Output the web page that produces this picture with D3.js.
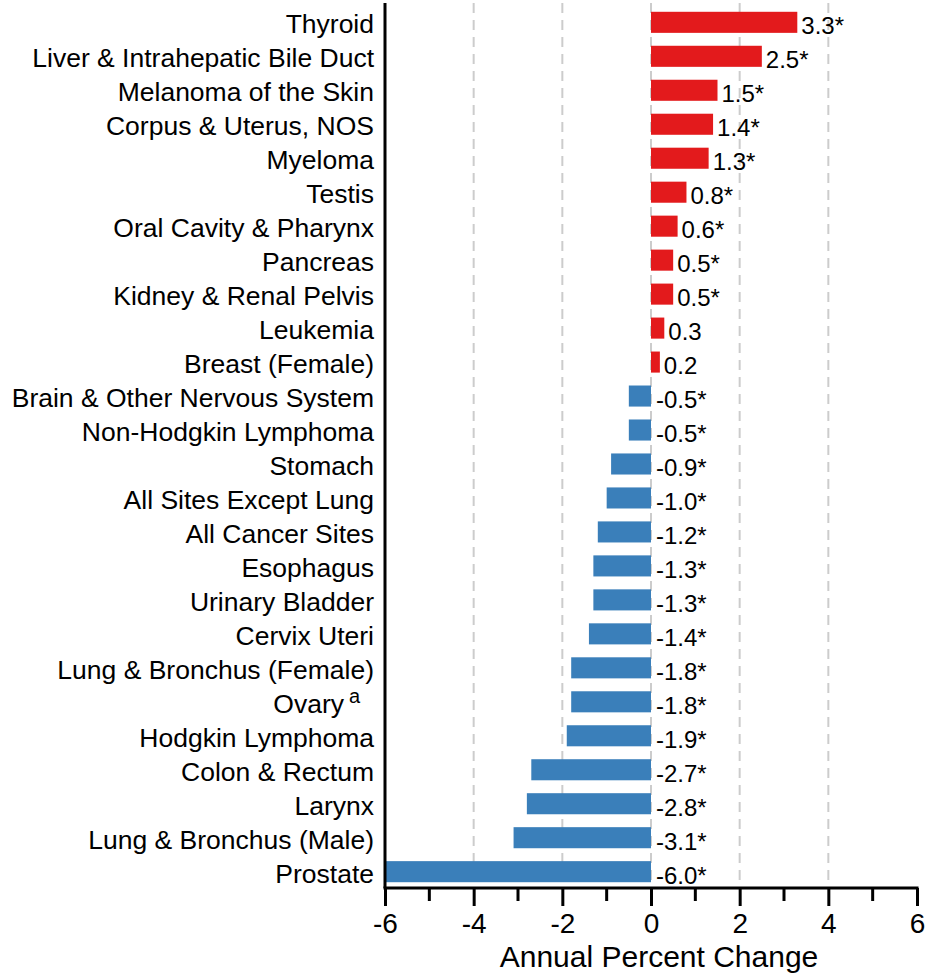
<!DOCTYPE html>
<html>
<head>
<meta charset="utf-8">
<script src="https://cdn.jsdelivr.net/npm/d3@7"></script>
<style>
  body { margin: 0; background: #fff; }
  svg { display: block; font-family: "Liberation Sans", Arial, sans-serif; }
</style>
</head>
<body>
<div id="chart"></div>
<script>
// Data
const sites = [
  'Thyroid', 'Liver & Intrahepatic Bile Duct', 'Melanoma of the Skin', 'Corpus & Uterus, NOS',
  'Myeloma', 'Testis', 'Oral Cavity & Pharynx', 'Pancreas', 'Kidney & Renal Pelvis', 'Leukemia',
  'Breast (Female)', 'Brain & Other Nervous System', 'Non-Hodgkin Lymphoma', 'Stomach',
  'All Sites Except Lung', 'All Cancer Sites', 'Esophagus', 'Urinary Bladder', 'Cervix Uteri',
  'Lung & Bronchus (Female)', 'Ovary', 'Hodgkin Lymphoma', 'Colon & Rectum', 'Larynx',
  'Lung & Bronchus (Male)', 'Prostate'
];
const apc = [
  3.3, 2.5, 1.5, 1.4, 1.3, 0.8, 0.6, 0.5, 0.5, 0.3, 0.2, -0.5, -0.5, -0.9,
  -1.0, -1.2, -1.3, -1.3, -1.4, -1.8, -1.8, -1.9, -2.7, -2.8, -3.1, -6.0
];
const significant = [
  true, true, true, true, true, true, true, true, true, false, false, true, true, true,
  true, true, true, true, true, true, true, true, true, true, true, true
];
const footnotes = { 'Ovary': 'a' };
const xTicks = [-6, -4, -2, 0, 2, 4, 6];
const gridTicks = [-4, -2, 0, 2, 4];
const minorTicks = [-5, -3, -1, 1, 3, 5];
const xTitle = 'Annual Percent Change';

const dataset = sites.map((site, i) => ({ site, value: apc[i], sig: significant[i] }));

// Dimensions
const dimensions = { width: 927, height: 974, left: 385, right: 917, top: 3, axisY: 888 };

const svg = d3.select('#chart')
  .append('svg')
  .attr('width', dimensions.width)
  .attr('height', dimensions.height);

// Scales
const xScale = d3.scaleLinear()
  .domain([-6, 6])
  .range([dimensions.left, dimensions.right]);

const yScale = d3.scaleBand()
  .domain(sites)
  .range([5, 889])
  .paddingInner(0.38)
  .paddingOuter(0.2);

// Grid lines
svg.append('g')
  .selectAll('line')
  .data(gridTicks)
  .join('line')
  .attr('x1', d => xScale(d))
  .attr('x2', d => xScale(d))
  .attr('y1', dimensions.top)
  .attr('y2', dimensions.axisY)
  .attr('stroke', '#cccccc')
  .attr('stroke-width', 2)
  .attr('stroke-dasharray', '10,7');

// Bars
svg.append('g')
  .selectAll('rect')
  .data(dataset)
  .join('rect')
  .attr('x', d => xScale(Math.min(0, d.value)))
  .attr('y', d => yScale(d.site))
  .attr('width', d => Math.abs(xScale(d.value) - xScale(0)))
  .attr('height', yScale.bandwidth())
  .attr('fill', d => d.value >= 0 ? '#e31a1c' : '#3a7fba');

// Value labels
svg.append('g')
  .selectAll('text')
  .data(dataset)
  .join('text')
  .attr('x', d => d.value >= 0 ? xScale(d.value) + 4 : xScale(0) + 5)
  .attr('y', d => yScale(d.site) + yScale.bandwidth() / 2 + 12)
  .attr('font-size', 24)
  .attr('fill', '#000')
  .text(d => d.value.toFixed(1) + (d.sig ? '*' : ''));

// Category labels
svg.append('g')
  .selectAll('text')
  .data(dataset)
  .join('text')
  .attr('x', d => footnotes[d.site] ? 344 : 374)
  .attr('y', d => yScale(d.site) + yScale.bandwidth() / 2 + 11)
  .attr('text-anchor', 'end')
  .attr('font-size', 26.5)
  .attr('fill', '#000')
  .text(d => d.site);

svg.append('g')
  .selectAll('text')
  .data(dataset.filter(d => footnotes[d.site]))
  .join('text')
  .attr('x', 349)
  .attr('y', d => yScale(d.site) + yScale.bandwidth() / 2 + 1)
  .attr('font-size', 20)
  .attr('fill', '#000')
  .text(d => footnotes[d.site]);

// Left axis line
svg.append('line')
  .attr('x1', dimensions.left)
  .attr('x2', dimensions.left)
  .attr('y1', dimensions.top)
  .attr('y2', dimensions.axisY)
  .attr('stroke', '#000')
  .attr('stroke-width', 3);

// Bottom axis
const xAxis = d3.axisBottom(xScale)
  .tickValues(xTicks)
  .tickSize(18)
  .tickPadding(7)
  .tickFormat(d3.format('d'));

const xAxisGroup = svg.append('g')
  .attr('transform', `translate(0,${dimensions.axisY})`)
  .call(xAxis);

xAxisGroup.select('.domain')
  .attr('stroke', '#000')
  .attr('stroke-width', 3)
  .attr('d', `M${dimensions.left - 1.5},0H${dimensions.right + 1.5}`);

xAxisGroup.selectAll('.tick line')
  .attr('stroke', '#000')
  .attr('stroke-width', 3);

xAxisGroup.selectAll('.tick text')
  .attr('font-size', 28)
  .attr('font-family', '"Liberation Sans", Arial, sans-serif')
  .attr('fill', '#000')
  .text(d => d < 0 ? '-' + Math.abs(d) : d);

xAxisGroup.append('g')
  .selectAll('line')
  .data(minorTicks)
  .join('line')
  .attr('x1', d => xScale(d))
  .attr('x2', d => xScale(d))
  .attr('y1', 0)
  .attr('y2', 13)
  .attr('stroke', '#000')
  .attr('stroke-width', 3);

// Axis title
svg.append('text')
  .attr('x', (dimensions.left + dimensions.right) / 2 + 8)
  .attr('y', 967)
  .attr('text-anchor', 'middle')
  .attr('font-size', 30)
  .attr('fill', '#000')
  .text(xTitle);
</script>
</body>
</html>
